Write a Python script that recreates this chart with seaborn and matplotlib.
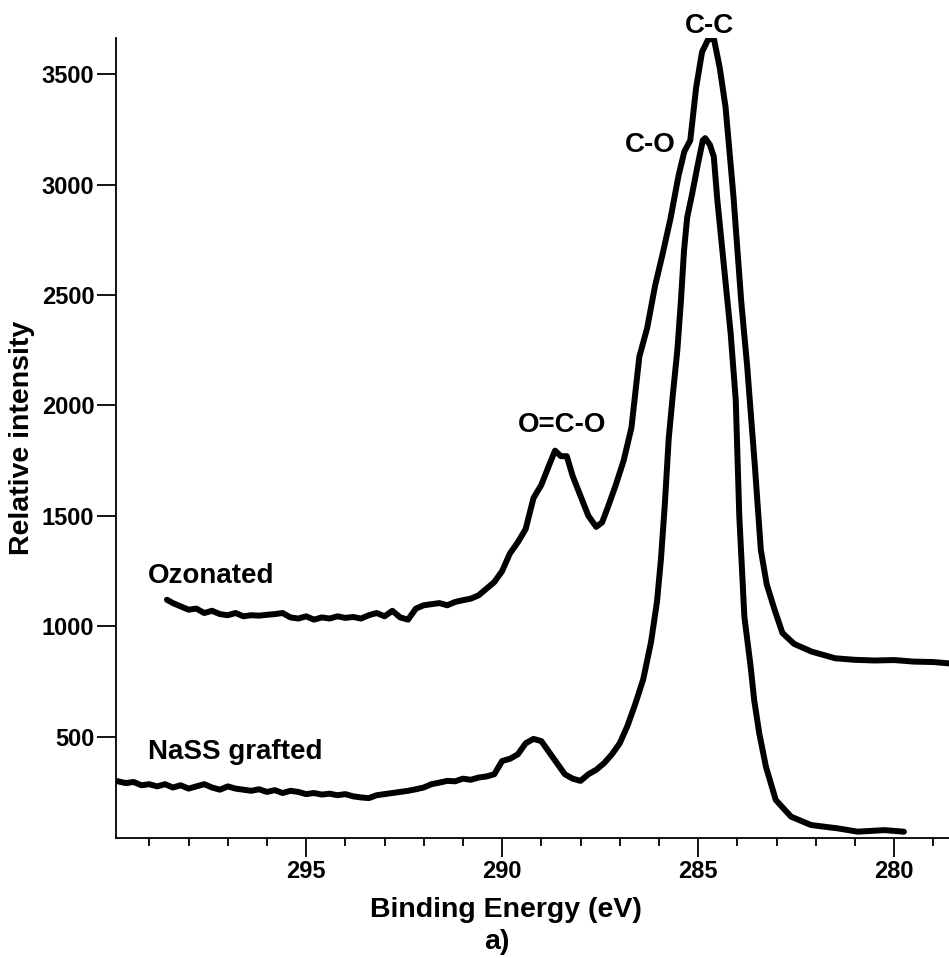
import matplotlib
matplotlib.use("Agg")
import matplotlib.pyplot as plt
import seaborn as sns
import pandas as pd
from matplotlib.ticker import MultipleLocator

sns.set_style("ticks", {"axes.labelcolor": "black", "text.color": "black",
                        "xtick.color": "black", "ytick.color": "black",
                        "axes.edgecolor": "black"})
plt.rcParams['font.family'] = ['Liberation Sans', 'DejaVu Sans']
plt.rcParams['font.weight'] = 'bold'

# ---- data ----
ozo_energy = [298.55, 298.4, 298.2, 298.0, 297.8, 297.6, 297.4, 297.2, 297.0, 296.8,
              296.6, 296.4, 296.2, 296.0, 295.8, 295.6, 295.4, 295.2, 295.0, 294.8,
              294.6, 294.4, 294.2, 294.0, 293.8, 293.6, 293.4, 293.2, 293.0, 292.8,
              292.6, 292.4, 292.2, 292.0, 291.8, 291.6, 291.4, 291.2, 291.0, 290.8,
              290.6, 290.4, 290.2, 290.0, 289.8, 289.6, 289.4, 289.2, 289.0, 288.8,
              288.65, 288.5, 288.35, 288.2, 288.0, 287.8, 287.6, 287.45, 287.3, 287.1,
              286.9, 286.7, 286.5, 286.3, 286.1, 285.9, 285.7, 285.5, 285.35, 285.2,
              285.05, 284.9, 284.75, 284.6, 284.45, 284.3, 284.1, 283.9, 283.75, 283.55,
              283.4, 283.25, 283.05, 282.85, 282.55, 282.1, 281.5, 281.0, 280.5, 280.0,
              279.5, 279.0, 278.6]
ozo_counts = [1120, 1105, 1090, 1075, 1080, 1060, 1070, 1055, 1050, 1060,
              1045, 1050, 1048, 1052, 1055, 1060, 1040, 1035, 1045, 1030,
              1040, 1035, 1045, 1038, 1042, 1035, 1050, 1060, 1045, 1070,
              1040, 1030, 1080, 1095, 1100, 1105, 1095, 1110, 1118, 1125,
              1140, 1170, 1200, 1250, 1330, 1380, 1440, 1580, 1640, 1730,
              1795, 1770, 1770, 1680, 1590, 1500, 1450, 1470, 1540, 1640,
              1750, 1900, 2220, 2350, 2540, 2690, 2850, 3040, 3150, 3200,
              3440, 3600, 3655, 3662, 3530, 3350, 2950, 2470, 2180, 1720,
              1345, 1190, 1075, 970, 920, 885, 855, 848, 845, 847,
              840, 838, 832]

nass_energy = [299.85, 299.6, 299.4, 299.2, 299.0, 298.8, 298.6, 298.4, 298.2, 298.0,
               297.8, 297.6, 297.4, 297.2, 297.0, 296.8, 296.6, 296.4, 296.2, 296.0,
               295.8, 295.6, 295.4, 295.2, 295.0, 294.8, 294.6, 294.4, 294.2, 294.0,
               293.8, 293.6, 293.4, 293.2, 293.0, 292.8, 292.6, 292.4, 292.2, 292.0,
               291.8, 291.6, 291.4, 291.2, 291.0, 290.8, 290.6, 290.4, 290.2, 290.0,
               289.8, 289.6, 289.4, 289.2, 289.0, 288.8, 288.6, 288.4, 288.2, 288.0,
               287.8, 287.6, 287.4, 287.2, 287.0, 286.8, 286.6, 286.4, 286.2, 286.05,
               285.95, 285.85, 285.75, 285.65, 285.53, 285.44, 285.36, 285.28, 285.15, 285.02,
               284.88, 284.82, 284.7, 284.6, 284.51, 284.34, 284.17, 284.04, 283.95, 283.82,
               283.66, 283.57, 283.44, 283.27, 283.02, 282.63, 282.12, 281.44, 280.93, 280.25,
               279.75]
nass_counts = [300, 290, 295, 280, 285, 275, 285, 270, 280, 265,
               275, 285, 270, 260, 275, 265, 260, 255, 262, 250,
               258, 245, 255, 250, 240, 245, 238, 242, 235, 240,
               230, 225, 222, 235, 240, 245, 250, 255, 262, 270,
               285, 292, 300, 298, 310, 305, 315, 320, 330, 390,
               400, 420, 470, 490, 480, 430, 380, 330, 310, 300,
               330, 350, 380, 420, 470, 550, 650, 760, 930, 1110,
               1300, 1550, 1850, 2040, 2250, 2470, 2700, 2850, 2960, 3080,
               3200, 3210, 3180, 3126, 2930, 2628, 2326, 2024, 1500, 1043,
               817, 666, 515, 364, 214, 138, 100, 85, 70, 77,
               70]

x_ticks = [295, 290, 285, 280]
y_ticks = [500, 1000, 1500, 2000, 2500, 3000, 3500]

df = pd.concat([
    pd.DataFrame({"energy": ozo_energy, "counts": ozo_counts, "sample": "Ozonated"}),
    pd.DataFrame({"energy": nass_energy, "counts": nass_counts, "sample": "NaSS grafted"}),
])

fig = plt.figure(figsize=(9.49, 9.58), dpi=100)
ax = fig.add_axes([116/949, 1 - 838.3/958, 1 - 116/949, (838.3 - 38.3)/958])

sns.lineplot(data=df, x="energy", y="counts", units="sample", estimator=None,
             color="black", linewidth=4.3, sort=False, legend=False, ax=ax)

ax.set_xlim(299.85, 278.6)
ax.set_ylim(40, 3662)
ax.set_xticks(x_ticks)
ax.set_yticks(y_ticks)
ax.xaxis.set_minor_locator(MultipleLocator(1))

for s in ["top", "right"]:
    ax.spines[s].set_visible(False)
for s in ["left", "bottom"]:
    ax.spines[s].set_linewidth(1.3)
    ax.spines[s].set_color("black")

ax.tick_params(axis="both", which="major", direction="out", length=13.5, width=1.3,
               labelsize=17, pad=2, colors="black")
ax.tick_params(axis="x", which="minor", direction="out", length=6, width=1.3, colors="black")
for lab in ax.get_xticklabels() + ax.get_yticklabels():
    lab.set_fontweight("bold")
    lab.set_color("black")

ax.set_xlabel("Binding Energy (eV)", fontsize=20.5, fontweight="bold", color="black")
ax.set_ylabel("Relative intensity", fontsize=20.5, fontweight="bold", color="black")
ax.xaxis.set_label_coords((506 - 116) / 833, -(910 - 838.3) / 800)
ax.yaxis.set_label_coords(-(116 - 22) / 833, 0.5)
ax.xaxis.label.set_va("center")
ax.yaxis.label.set_va("center")

fig.text(497/949, 1 - 942/958, "a)", fontsize=20.5, fontweight="bold",
         ha="center", va="center", color="black")

txt = dict(fontsize=20, fontweight="bold", color="black")
ax.text(284.70, 3686, "C-C", ha="center", va="baseline", clip_on=False, **txt)
ax.text(286.21, 3147, "C-O", ha="center", va="baseline", **txt)
ax.text(288.48, 1879, "O=C-O", ha="center", va="baseline", **txt)
ax.text(299.03, 1196, "Ozonated", ha="left", va="baseline", **txt)
ax.text(299.03, 399, "NaSS grafted", ha="left", va="baseline", **txt)

fig.savefig("out.png", dpi=100)
